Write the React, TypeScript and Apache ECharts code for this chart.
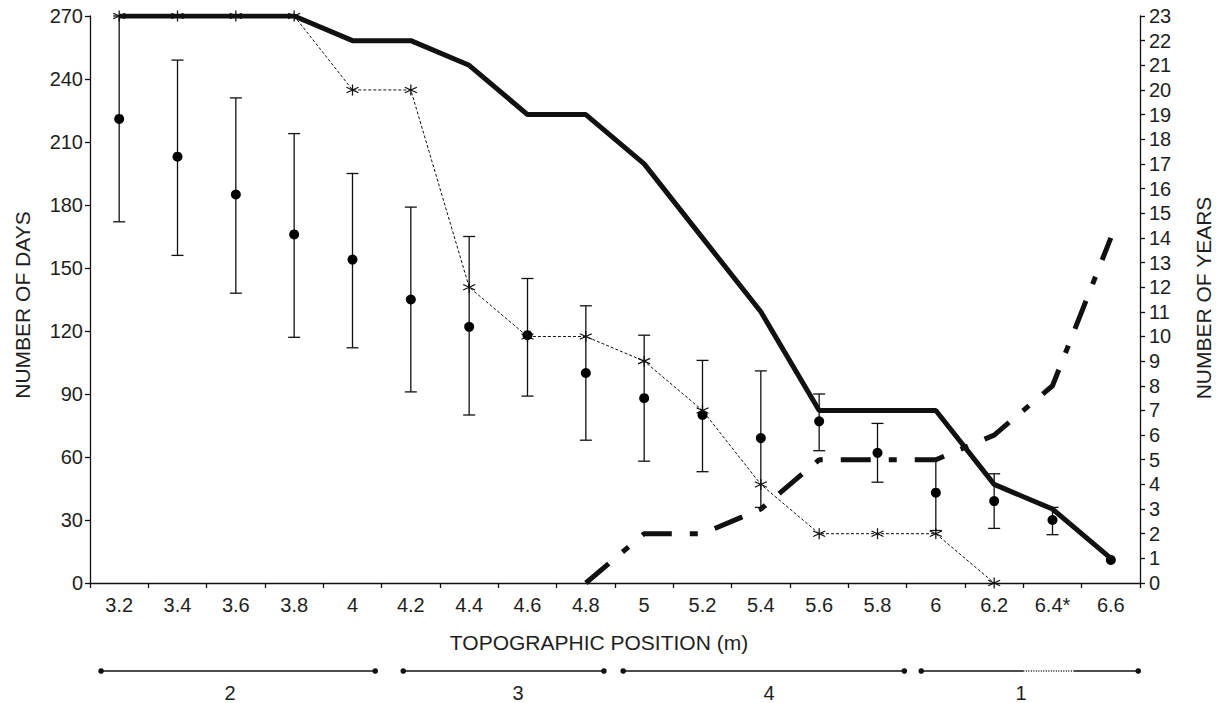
import React, { useEffect, useRef } from 'react';
import * as echarts from 'echarts';

// Topographic position categories (m)
const categories = ['3.2', '3.4', '3.6', '3.8', '4', '4.2', '4.4', '4.6', '4.8', '5', '5.2', '5.4', '5.6', '5.8', '6', '6.2', '6.4*', '6.6'];

// Right axis (number of years)
const yearsSolid = [23, 23, 23, 23, 22, 22, 21, 19, 19, 17, 14, 11, 7, 7, 7, 4, 3, 1];
const yearsAsterisk = [23, 23, 23, 23, 20, 20, 12, 10, 10, 9, 7, 4, 2, 2, 2, 0, null, null];
const yearsDashed = [null, null, null, null, null, null, null, null, 0, 2, 2, 3, 5, 5, 5, 6, 8, 14];

// Left axis (number of days): mean with min/max bars
const meanDays = [221, 203, 185, 166, 154, 135, 122, 118, 100, 88, 80, 69, 77, 62, 43, 39, 30, 11];
const lowDays = [172, 156, 138, 117, 112, 91, 80, 89, 68, 58, 53, 36, 63, 48, 25, 26, 23, null];
const highDays = [270, 249, 231, 214, 195, 179, 165, 145, 132, 118, 106, 101, 90, 76, 59, 52, 36, null];

// Zones along the transect (in category index units)
const zoneLabels = ['2', '3', '4', '1'];
const zoneStart = [-0.31, 4.87, 8.64, 13.75];
const zoneEnd = [4.39, 8.31, 13.46, 17.47];
const zoneLabelAt = [1.9, 6.84, 11.14, 15.46];
const dottedFrom = 15.5;
const dottedTo = 16.37;

const daysTicks = { min: 0, max: 270, interval: 30 };
const yearsTicks = { min: 0, max: 23, interval: 1 };

const FONT = '"Liberation Sans", Arial, Helvetica, sans-serif';
const INK = '#111111';
const TEXT = '#1e1e1e';
const W = 1218;
const H = 703;
const GRID = { left: 90, right: 78, top: 16, bottom: 120 };

const asterisk = 'path://M5 0 L5 10 M0.7 2.5 L9.3 7.5 M0.7 7.5 L9.3 2.5';

export default function App() {
  const ref = useRef<HTMLDivElement>(null);

  useEffect(() => {
    if (!ref.current) return;
    const chart = echarts.init(ref.current, null, { renderer: 'svg' });

    const plotW = W - GRID.left - GRID.right;
    const cat = plotW / categories.length;
    const xAt = (idx: number) => GRID.left + (idx + 0.5) * cat;
    const zoneY = 671;

    const graphics: any[] = [];
    zoneLabels.forEach((lab, k) => {
      const x1 = xAt(zoneStart[k]);
      const x2 = xAt(zoneEnd[k]);
      if (lab === '1') {
        const d1 = xAt(dottedFrom);
        const d2 = xAt(dottedTo);
        graphics.push({ type: 'line', shape: { x1, y1: zoneY, x2: d1, y2: zoneY }, style: { stroke: INK, lineWidth: 1.3 } });
        graphics.push({ type: 'line', shape: { x1: d1, y1: zoneY, x2: d2, y2: zoneY }, style: { stroke: INK, lineWidth: 1.3, lineDash: [1, 1.5] } });
        graphics.push({ type: 'line', shape: { x1: d2, y1: zoneY, x2, y2: zoneY }, style: { stroke: INK, lineWidth: 1.3 } });
      } else {
        graphics.push({ type: 'line', shape: { x1, y1: zoneY, x2, y2: zoneY }, style: { stroke: INK, lineWidth: 1.3 } });
      }
      graphics.push({ type: 'circle', shape: { cx: x1, cy: zoneY, r: 2.8 }, style: { fill: INK } });
      graphics.push({ type: 'circle', shape: { cx: x2, cy: zoneY, r: 2.8 }, style: { fill: INK } });
      graphics.push({
        type: 'text', x: xAt(zoneLabelAt[k]), y: 693,
        style: { text: lab, font: `20px ${FONT}`, fill: TEXT, textAlign: 'center', textVerticalAlign: 'middle' },
      });
    });
    graphics.push({
      type: 'text', x: 599, y: 642,
      style: { text: 'TOPOGRAPHIC POSITION (m)', font: `21px ${FONT}`, fill: TEXT, textAlign: 'center', textVerticalAlign: 'middle' },
    });
    graphics.push({
      type: 'text', x: 22, y: 305, rotation: Math.PI / 2,
      style: { text: 'NUMBER OF DAYS', font: `21px ${FONT}`, fill: TEXT, textAlign: 'center', textVerticalAlign: 'middle' },
    });
    graphics.push({
      type: 'text', x: 1203, y: 298, rotation: Math.PI / 2,
      style: { text: 'NUMBER OF YEARS', font: `21px ${FONT}`, fill: TEXT, textAlign: 'center', textVerticalAlign: 'middle' },
    });

    const errData = categories
      .map((_, i) => [i, lowDays[i], highDays[i]])
      .filter((d) => d[1] != null && d[2] != null);

    const axisLine = { show: true, lineStyle: { color: INK, width: 1.3 } };
    const axisTick = { show: true, length: 5, lineStyle: { color: INK, width: 1.3 } };

    chart.setOption({
      animation: false,
      backgroundColor: '#ffffff',
      grid: { left: GRID.left, right: GRID.right, top: GRID.top, bottom: GRID.bottom, containLabel: false },
      xAxis: {
        type: 'category',
        data: categories,
        boundaryGap: true,
        axisLine,
        axisTick: { ...axisTick, alignWithLabel: false, interval: 0 },
        axisLabel: { interval: 0, color: TEXT, fontFamily: FONT, fontSize: 20, margin: 12 },
        splitLine: { show: false },
      },
      yAxis: [
        {
          type: 'value', ...daysTicks, position: 'left',
          axisLine, axisTick,
          axisLabel: { color: TEXT, fontFamily: FONT, fontSize: 20, margin: 7 },
          splitLine: { show: false },
        },
        {
          type: 'value', ...yearsTicks, position: 'right',
          axisLine, axisTick,
          axisLabel: { color: TEXT, fontFamily: FONT, fontSize: 20, margin: 9 },
          splitLine: { show: false },
        },
      ],
      graphic: graphics,
      series: [
        {
          type: 'custom',
          name: 'range',
          yAxisIndex: 0,
          data: errData,
          encode: { x: 0, y: [1, 2] },
          renderItem: (params: any, api: any) => {
            const i = api.value(0);
            const lo = api.coord([i, api.value(1)]);
            const hi = api.coord([i, api.value(2)]);
            const cap = 6;
            const st = { stroke: INK, lineWidth: 1.3 };
            return {
              type: 'group',
              children: [
                { type: 'line', shape: { x1: lo[0], y1: lo[1], x2: hi[0], y2: hi[1] }, style: st },
                { type: 'line', shape: { x1: lo[0] - cap, y1: lo[1], x2: lo[0] + cap, y2: lo[1] }, style: st },
                { type: 'line', shape: { x1: hi[0] - cap, y1: hi[1], x2: hi[0] + cap, y2: hi[1] }, style: st },
              ],
            };
          },
          z: 2,
        },
        {
          type: 'scatter',
          name: 'mean days',
          yAxisIndex: 0,
          data: meanDays,
          symbol: 'circle',
          symbolSize: 10,
          itemStyle: { color: '#000000', opacity: 1 },
          z: 3,
        },
        {
          type: 'line',
          name: 'years asterisk',
          yAxisIndex: 1,
          data: yearsAsterisk,
          symbol: asterisk,
          symbolSize: [12, 11],
          showAllSymbol: true,
          itemStyle: { color: 'transparent', borderColor: INK, borderWidth: 1.2 },
          lineStyle: { color: INK, width: 1, type: [3, 2] },
          z: 4,
        },
        {
          type: 'line',
          name: 'years dashed',
          yAxisIndex: 1,
          data: yearsDashed,
          symbol: 'none',
          lineStyle: { color: INK, width: 5, type: [30, 18, 8, 18], cap: 'butt' },
          z: 5,
        },
        {
          type: 'line',
          name: 'years solid',
          yAxisIndex: 1,
          data: yearsSolid,
          symbol: 'none',
          lineStyle: { color: INK, width: 5 },
          z: 6,
        },
      ],
    });

    return () => chart.dispose();
  }, []);

  return <div ref={ref} style={{ width: W, height: H, position: 'absolute', left: 0, top: 0 }} />;
}
